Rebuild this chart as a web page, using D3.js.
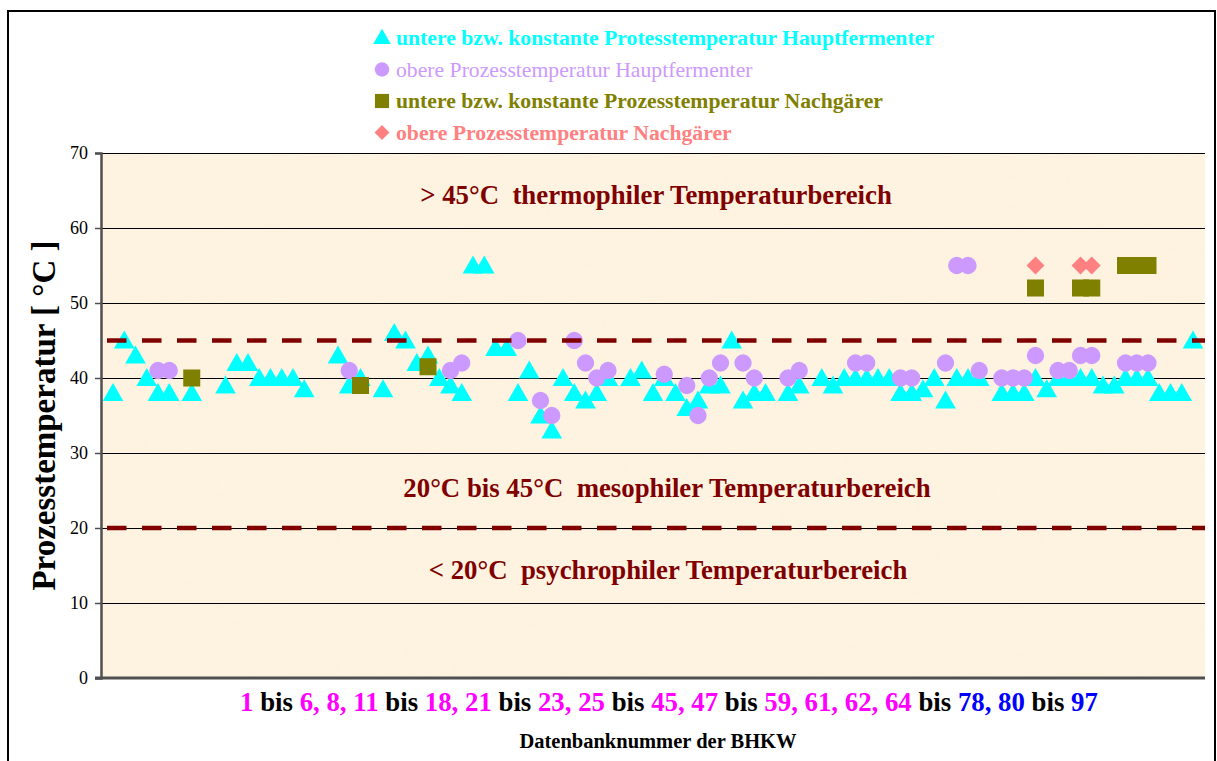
<!DOCTYPE html>
<html>
<head>
<meta charset="utf-8">
<script src="https://cdn.jsdelivr.net/npm/d3@7"></script>
<style>
  html, body { margin: 0; padding: 0; background: #ffffff; }
  svg { display: block; }
  text { font-family: "Liberation Serif", "Times New Roman", Times, serif; }
</style>
</head>
<body>
<svg id="chart" width="1217" height="761"></svg>
<script>
// Database numbers of the plants (categories on the x axis); missing numbers stay empty
const dbNumbers = [
  1, 2, 3, 4, 5, 6, 7, 8, 9, 10, 11, 12, 13, 14, 15, 16, 17, 18, 19, 20,
  21, 22, 23, 24, 25, 26, 27, 28, 29, 30, 31, 32, 33, 34, 35, 36, 37, 38, 39, 40,
  41, 42, 43, 44, 45, 46, 47, 48, 49, 50, 51, 52, 53, 54, 55, 56, 57, 58, 59, 60,
  61, 62, 63, 64, 65, 66, 67, 68, 69, 70, 71, 72, 73, 74, 75, 76, 77, 78, 79, 80,
  81, 82, 83, 84, 85, 86, 87, 88, 89, 90, 91, 92, 93, 94, 95, 96, 97
];

// lower (or constant) process temperature, main digester [°C]
const untereHauptfermenter = [
  38, 45, 43, 40, 38, 38, null, 38, null, null, 39, 42, 42, 40, 40, 40, 40, 38.5, null, null,
  43, 39, 40, null, 38.5, 46, 45, 42, 43, 40, 39, 38, 55, 55, 44, 44, 38, 41, 35, 33,
  40, 38, 37, 38, 40, null, 40, 41, 38, 40, 38, 36, 37, 39, 39, 45, 37, 38, 38, null,
  38, 39, null, 40, 39, 40, 40, 40, 40, 40, 38, 38, 38.5, 40, 37, 40, 40, 40, null, 38,
  38, 38, 40, 38.5, 40, 40, 40, 40, 39, 39, 40, 40, 40, 38, 38, 38, 45
];

// upper process temperature, main digester [°C]
const obereHauptfermenter = [
  null, null, null, null, 41, 41, null, null, null, null, null, null, null, null, null, null, null, null, null, null,
  null, 41, null, null, null, null, null, null, null, null, 41, 42, null, null, null, null, 45, null, 37, 35,
  null, 45, 42, 40, 41, null, null, null, null, 40.5, null, 39, 35, 40, 42, null, 42, 40, null, null,
  40, 41, null, null, null, null, 42, 42, null, null, 40, 40, null, null, 42, 55, 55, 41, null, 40,
  40, 40, 43, null, 41, 41, 43, 43, null, null, 42, 42, 42, null, null, null, null
];

// lower (or constant) process temperature, secondary digester [°C]
const untereNachgaerer = [
  null, null, null, null, null, null, null, 40, null, null, null, null, null, null, null, null, null, null, null, null,
  null, null, 39, null, null, null, null, null, 41.5, null, null, null, null, null, null, null, null, null, null, null,
  null, null, null, null, null, null, null, null, null, null, null, null, null, null, null, null, null, null, null, null,
  null, null, null, null, null, null, null, null, null, null, null, null, null, null, null, null, null, null, null, null,
  null, null, 52, null, null, null, 52, 52, null, null, 55, 55, 55, null, null, null, null
];

// upper process temperature, secondary digester [°C]
const obereNachgaerer = [
  null, null, null, null, null, null, null, null, null, null, null, null, null, null, null, null, null, null, null, null,
  null, null, null, null, null, null, null, null, null, null, null, null, null, null, null, null, null, null, null, null,
  null, null, null, null, null, null, null, null, null, null, null, null, null, null, null, null, null, null, null, null,
  null, null, null, null, null, null, null, null, null, null, null, null, null, null, null, null, null, null, null, null,
  null, null, 55, null, null, null, 55, 55, null, null, null, null, null, null, null, null, null
];

// Temperature range boundaries (dashed lines)
const bereichsGrenzen = [45, 20];

// Value axis ticks
const yTicks = [0, 10, 20, 30, 40, 50, 60, 70];

// Labels of the three temperature ranges
const bereichsTexte = [
  { text: "> 45°C  thermophiler Temperaturbereich", value: 63.2, cx: 656 },
  { text: "20°C bis 45°C  mesophiler Temperaturbereich", value: 24.2, cx: 667 },
  { text: "< 20°C  psychrophiler Temperaturbereich", value: 13.2, cx: 668 }
];

// Category axis caption, as coloured pieces
const kategorieText = [
  ["1", "#ff00ff"], [" bis ", "#000000"], ["6, 8, 11", "#ff00ff"], [" bis ", "#000000"],
  ["18, 21", "#ff00ff"], [" bis ", "#000000"], ["23, 25", "#ff00ff"], [" bis ", "#000000"],
  ["45, 47", "#ff00ff"], [" bis ", "#000000"], ["59, 61, 62, 64", "#ff00ff"], [" bis ", "#000000"],
  ["78, 80", "#0000ff"], [" bis ", "#000000"], ["97", "#0000ff"]
];

// Square diamond (a square turned by 45°)
const symbolRhombus = {
  draw(context, size) {
    const r = Math.sqrt(size / 2);
    context.moveTo(0, -r);
    context.lineTo(r, 0);
    context.lineTo(0, r);
    context.lineTo(-r, 0);
    context.closePath();
  }
};

// Series definitions (drawing order = stacking order)
const serien = [
  { name: "untere bzw. konstante Protesstemperatur Hauptfermenter", values: untereHauptfermenter,
    symbol: d3.symbolTriangle, color: "#00ffff", weight: "bold", size: 185, legendSize: 135, dy: 2 },
  { name: "obere Prozesstemperatur Hauptfermenter", values: obereHauptfermenter,
    symbol: d3.symbolCircle, color: "#cc99ff", weight: "normal", size: 235, legendSize: 165, dy: 0 },
  { name: "untere bzw. konstante Prozesstemperatur Nachgärer", values: untereNachgaerer,
    symbol: d3.symbolSquare, color: "#808000", weight: "bold", size: 290, legendSize: 200, dy: 0 },
  { name: "obere Prozesstemperatur Nachgärer", values: obereNachgaerer,
    symbol: symbolRhombus, color: "#ff8080", weight: "bold", size: 160, legendSize: 110, dy: 0 }
];

const svg = d3.select("#chart");
const plot = { left: 101, right: 1205, top: 153, bottom: 678 };

// Outer chart frame
svg.append("rect")
  .attr("x", 8).attr("y", 11).attr("width", 1207).attr("height", 800)
  .attr("fill", "#ffffff").attr("stroke", "#000000").attr("stroke-width", 2);

// Scales
const x = d3.scalePoint().domain(dbNumbers).range([plot.left, plot.right]).padding(1.067);
const y = d3.scaleLinear().domain([0, 70]).range([plot.bottom, plot.top]);

// Parchment-like plot background
const defs = svg.append("defs");
const filt = defs.append("filter").attr("id", "parchment")
  .attr("x", 0).attr("y", 0).attr("width", "100%").attr("height", "100%");
filt.append("feTurbulence").attr("type", "fractalNoise").attr("baseFrequency", "0.035")
  .attr("numOctaves", 3).attr("seed", 7).attr("result", "noise");
filt.append("feColorMatrix").attr("in", "noise").attr("type", "matrix")
  .attr("values", "0 0 0 0 0.95  0 0 0 0 0.88  0 0 0 0 0.72  0 0 0 -1.3 0.72")
  .attr("result", "tint");
filt.append("feComposite").attr("in", "tint").attr("in2", "SourceGraphic").attr("operator", "in");

svg.append("rect")
  .attr("x", plot.left).attr("y", plot.top)
  .attr("width", plot.right - plot.left).attr("height", plot.bottom - plot.top)
  .attr("fill", "#fdf3e0");
svg.append("rect")
  .attr("x", plot.left).attr("y", plot.top)
  .attr("width", plot.right - plot.left).attr("height", plot.bottom - plot.top)
  .attr("fill", "#fdf3e0").attr("filter", "url(#parchment)").attr("opacity", 0.35);

// Horizontal gridlines
svg.append("g").selectAll("line")
  .data(yTicks.filter(t => t > 0))
  .join("line")
  .attr("x1", plot.left).attr("x2", plot.right)
  .attr("y1", d => Math.round(y(d)) + 0.5).attr("y2", d => Math.round(y(d)) + 0.5)
  .attr("stroke", "#000000").attr("stroke-width", 1)
  .attr("shape-rendering", "crispEdges");

// Value axis
const yAxis = svg.append("g")
  .attr("transform", `translate(${plot.left},0)`)
  .call(d3.axisLeft(y).tickValues(yTicks).tickSize(6).tickPadding(7));
yAxis.select(".domain").attr("stroke", "#505050").attr("stroke-width", 2.5);
yAxis.selectAll(".tick line").attr("stroke", "#505050").attr("stroke-width", 1.5);
yAxis.selectAll(".tick text")
  .attr("font-family", "'Liberation Serif', 'Times New Roman', serif")
  .attr("font-size", 18).attr("fill", "#000000");

// Category axis line
svg.append("line")
  .attr("x1", plot.left - 6).attr("x2", plot.right)
  .attr("y1", plot.bottom).attr("y2", plot.bottom)
  .attr("stroke", "#505050").attr("stroke-width", 3);

// Range labels
svg.append("g").selectAll("text")
  .data(bereichsTexte)
  .join("text")
  .attr("x", d => d.cx).attr("y", d => y(d.value))
  .attr("text-anchor", "middle")
  .attr("font-size", 26.8).attr("font-weight", "bold")
  .attr("fill", "#800000")
  .attr("xml:space", "preserve")
  .text(d => d.text);

// Markers
serien.forEach(s => {
  const pts = dbNumbers.map((n, i) => ({ n, v: s.values[i] })).filter(d => d.v != null);
  svg.append("g").selectAll("path")
    .data(pts)
    .join("path")
    .attr("transform", d => `translate(${x(d.n)},${y(d.v) + s.dy})`)
    .attr("d", d3.symbol().type(s.symbol).size(s.size))
    .attr("fill", s.color);
});

// Dashed range boundaries
svg.append("g").selectAll("line")
  .data(bereichsGrenzen)
  .join("line")
  .attr("x1", plot.left + 6).attr("x2", plot.right)
  .attr("y1", d => y(d)).attr("y2", d => y(d))
  .attr("stroke", "#800000").attr("stroke-width", 4.5)
  .attr("stroke-dasharray", "19.5 15.5");

// Value axis title
svg.append("text")
  .attr("transform", `translate(55,${(plot.top + plot.bottom) / 2}) rotate(-90)`)
  .attr("text-anchor", "middle")
  .attr("font-size", 33).attr("font-weight", "bold")
  .attr("xml:space", "preserve")
  .text("Prozesstemperatur [ °C ]");

// Category caption
const kat = svg.append("text")
  .attr("x", 669).attr("y", 711)
  .attr("text-anchor", "middle")
  .attr("font-size", 26.8).attr("font-weight", "bold")
  .attr("xml:space", "preserve");
kategorieText.forEach(([t, c]) => kat.append("tspan").attr("fill", c).text(t));

// Category axis title
svg.append("text")
  .attr("x", 658).attr("y", 748)
  .attr("text-anchor", "middle")
  .attr("font-size", 20.5).attr("font-weight", "bold")
  .text("Datenbanknummer der BHKW");

// Legend
const legend = svg.append("g");
serien.forEach((s, i) => {
  const ly = 38 + i * 31.5;
  legend.append("path")
    .attr("transform", `translate(382,${ly + (s.dy ? 1 : 0)})`)
    .attr("d", d3.symbol().type(s.symbol).size(s.legendSize))
    .attr("fill", s.color);
  legend.append("text")
    .attr("x", 396).attr("y", ly + 7)
    .attr("font-size", 21.7).attr("font-weight", s.weight)
    .attr("fill", s.color)
    .text(s.name);
});
</script>
</body>
</html>
